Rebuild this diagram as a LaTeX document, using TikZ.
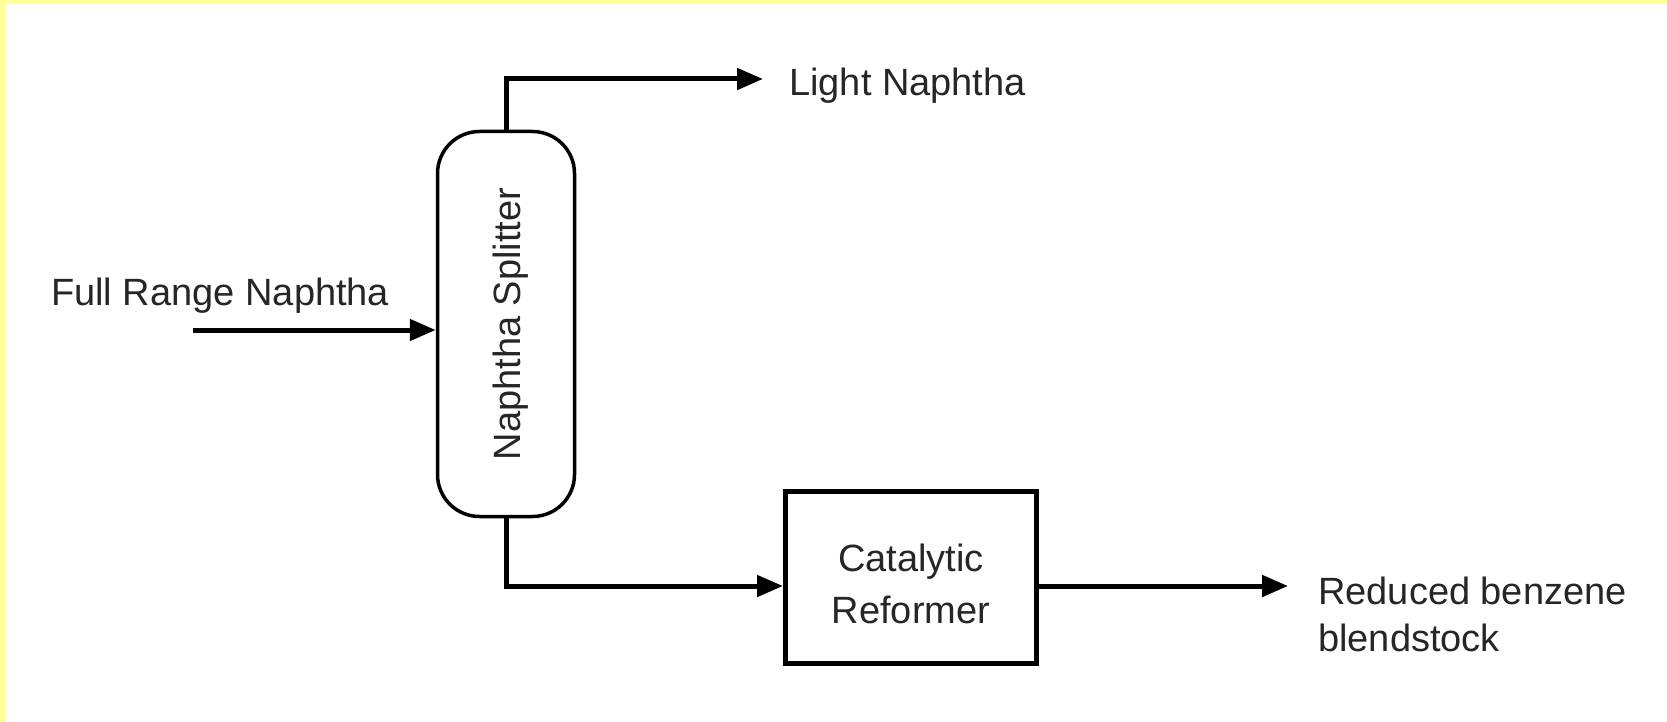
\documentclass[tikz,border=0pt]{standalone}
\usepackage{fontspec}
\setmainfont{Liberation Sans}
\usetikzlibrary{arrows.meta}
\definecolor{frameyellow}{HTML}{FFFF99}
\tikzset{
  flow/.style={line width=5pt,-{Triangle[length=26pt,width=21pt]}},
  txt/.style={inner sep=0pt,font=\fontsize{38}{47}\selectfont,text=black!85},
  vessel/.style={draw,line width=3.5pt,rounded corners=42pt,minimum width=137pt,minimum height=385pt,inner sep=0pt,font=\fontsize{38}{47}\selectfont,text=black!85},
  unitbox/.style={draw,line width=5pt,minimum width=251pt,minimum height=172pt,inner sep=0pt},
  unitlabel/.style={inner sep=0pt,align=center,font=\fontsize{38}{52}\selectfont,text=black!85}
}
\begin{document}
\begin{tikzpicture}[x=1pt,y=-1pt]
\useasboundingbox (0,0) rectangle (1667,722);
\fill[white] (0,0) rectangle (1667,722);
\fill[frameyellow] (0,0) rectangle (1667,4);
\fill[frameyellow] (0,0) rectangle (5,722);
% units
\node[vessel] (split) at (506,324) {\hspace*{10pt}\rotatebox{90}{Naphtha Splitter}};
\node[unitbox,label={[unitlabel,yshift=-7pt]center:{Catalytic\\Reformer}}] (cat) at (911,577) {};
% labels
\node[txt,anchor=west] (frn) at (51,296) {Full Range Naphtha};
\node[txt,anchor=west] (ln) at (789,86) {Light Naphtha};
\node[txt,anchor=west,align=left] (rb) at (1318,614) {Reduced benzene\\blendstock};
% free ends
\coordinate (fin) at (193,330);
\coordinate (lnend) at (763,79);
\coordinate (rbend) at (1288,586);
% connectors
\draw[flow] (fin) -- (split.west |- fin);
\draw[flow] (split.north) |- (lnend);
\draw[flow] (split.south) |- ([yshift=-9pt]cat.west);
\draw[flow] ([yshift=-9pt]cat.east) -- (rbend);
\end{tikzpicture}
\end{document}
